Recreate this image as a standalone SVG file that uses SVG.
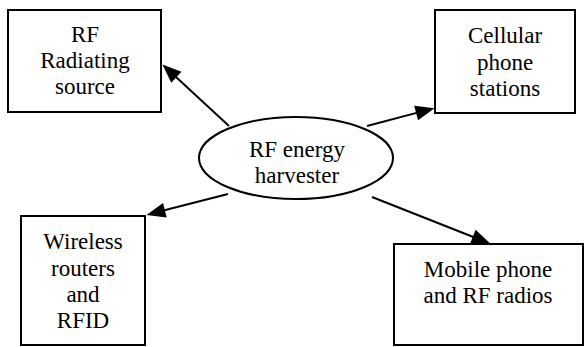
<svg xmlns="http://www.w3.org/2000/svg" width="586" height="347" viewBox="0 0 586 347">
<style>
.box{fill:#fff;stroke:#000;stroke-width:2}
.lbl{font-family:'Liberation Serif','Times New Roman',serif;font-size:23px;fill:#000;text-anchor:middle}
.conn{stroke:#000;stroke-width:2;fill:none;marker-end:url(#ah)}
</style>
<defs>
<marker id="ah" markerUnits="userSpaceOnUse" markerWidth="22" markerHeight="18" refX="0.5" refY="7.5" orient="auto" overflow="visible">
<path d="M0,0 L19,7.5 L0,15 Z" fill="#000"/>
</marker>
</defs>
<rect width="586" height="347" fill="#fff"/>
<g id="connectors">
<line class="conn" x1="229" y1="126" x2="176" y2="77"/>
<line class="conn" x1="367" y1="126" x2="416.6" y2="112.9"/>
<line class="conn" x1="228" y1="194" x2="164.4" y2="210.3"/>
<line class="conn" x1="372" y1="197" x2="473.3" y2="237"/>
</g>
<g id="rf-source">
<rect class="box" x="8" y="10" width="153" height="102"/>
<text class="lbl" x="85" y="42">RF</text>
<text class="lbl" x="85" y="68">Radiating</text>
<text class="lbl" x="85" y="94">source</text>
</g>
<g id="cellular">
<rect class="box" x="435" y="10" width="140" height="103"/>
<text class="lbl" x="505" y="43">Cellular</text>
<text class="lbl" x="505" y="70">phone</text>
<text class="lbl" x="505" y="96">stations</text>
</g>
<g id="harvester">
<ellipse class="box" cx="296" cy="158" rx="97" ry="41"/>
<text class="lbl" x="297" y="157">RF energy</text>
<text class="lbl" x="297" y="183">harvester</text>
</g>
<g id="wireless">
<rect class="box" x="21" y="216" width="124" height="129"/>
<text class="lbl" x="83" y="249">Wireless</text>
<text class="lbl" x="83" y="276">routers</text>
<text class="lbl" x="83" y="302">and</text>
<text class="lbl" x="83" y="328">RFID</text>
</g>
<g id="mobile">
<rect class="box" x="394" y="244" width="189" height="101"/>
<text class="lbl" x="488" y="277">Mobile phone</text>
<text class="lbl" x="488" y="303">and RF radios</text>
</g>
</svg>
